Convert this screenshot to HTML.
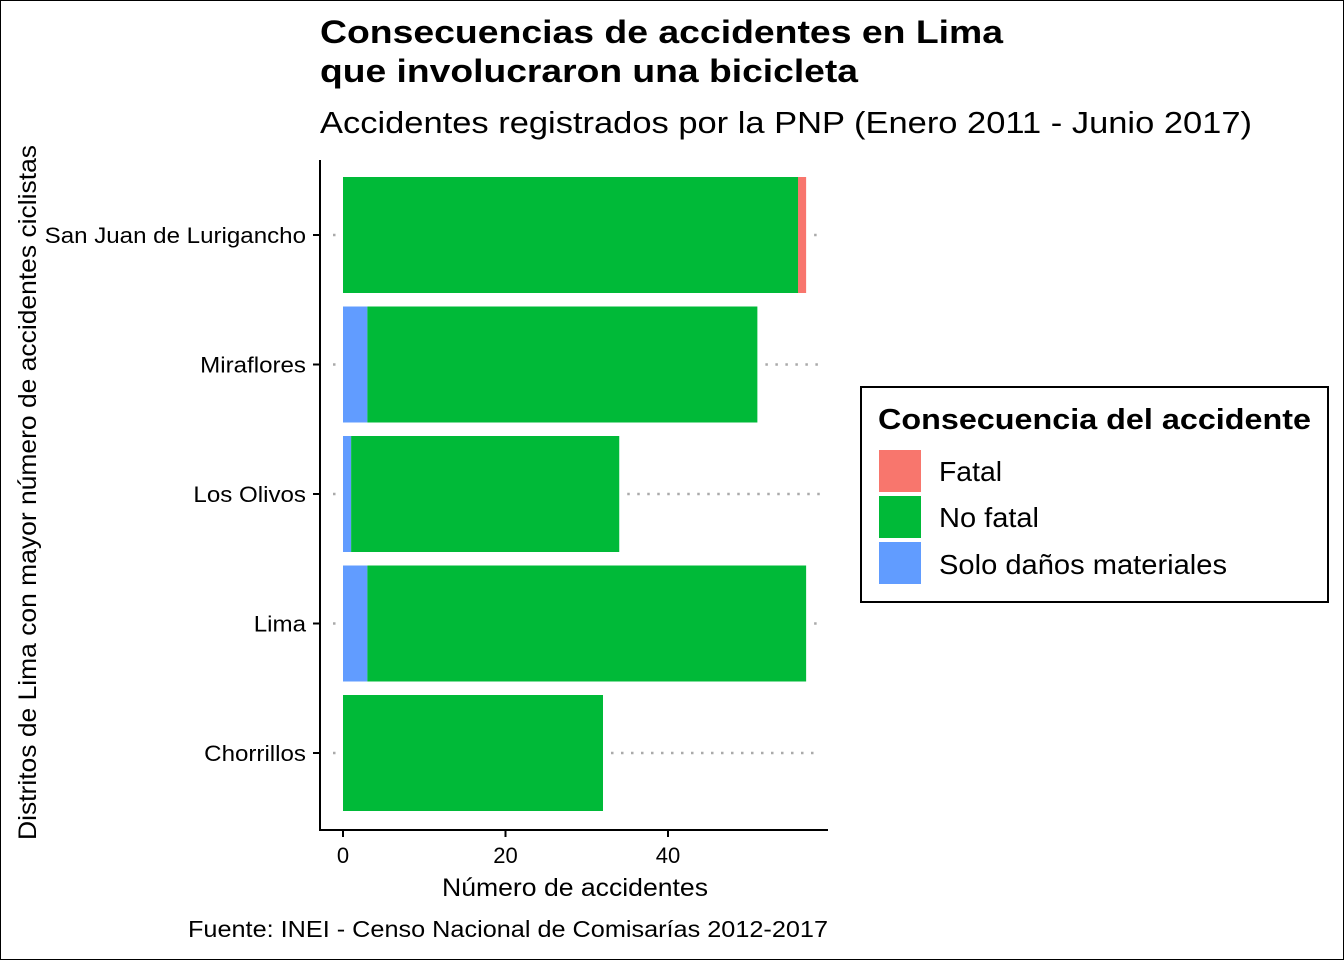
<!DOCTYPE html>
<html><head><meta charset="utf-8"><style>
body{margin:0;background:#fff;}
svg{display:block;font-family:"Liberation Sans",sans-serif;}
</style></head><body>
<svg id="chart" width="1344" height="960" viewBox="0 0 1344 960">
<rect x="0.5" y="0.5" width="1343" height="959" fill="#fff" stroke="#000"/>
<text x="320" y="43" font-size="32" font-weight="bold" textLength="683" lengthAdjust="spacingAndGlyphs">Consecuencias de accidentes en Lima</text>
<text x="320" y="82" font-size="32" font-weight="bold" textLength="538" lengthAdjust="spacingAndGlyphs">que involucraron una bicicleta</text>
<text x="320" y="133" font-size="31" textLength="932" lengthAdjust="spacingAndGlyphs">Accidentes registrados por la PNP (Enero 2011 - Junio 2017)</text>
<g id="grid"></g>
<g id="bars"></g>
<line x1="320" y1="160" x2="320" y2="831" stroke="#000" stroke-width="2"/>
<line x1="319" y1="830" x2="828" y2="830" stroke="#000" stroke-width="2"/>
<g id="axes"></g>
<text x="442" y="896" font-size="25" textLength="266" lengthAdjust="spacingAndGlyphs">Número de accidentes</text>
<text transform="translate(36,840) rotate(-90)" font-size="25" textLength="695" lengthAdjust="spacingAndGlyphs">Distritos de Lima con mayor número de accidentes ciclistas</text>
<text x="188" y="937" font-size="23" textLength="640" lengthAdjust="spacingAndGlyphs">Fuente: INEI - Censo Nacional de Comisarías 2012-2017</text>
<g>
<rect x="861" y="387" width="467" height="215" fill="#fff" stroke="#000" stroke-width="2"/>
<text x="878" y="429" font-size="29" font-weight="bold" textLength="433" lengthAdjust="spacingAndGlyphs">Consecuencia del accidente</text>
<rect x="879" y="450" width="42" height="42" fill="#F8766D"/>
<text x="939" y="481" font-size="28" textLength="63" lengthAdjust="spacingAndGlyphs">Fatal</text>
<rect x="879" y="496" width="42" height="42" fill="#00BA38"/>
<text x="939" y="527" font-size="28" textLength="100" lengthAdjust="spacingAndGlyphs">No fatal</text>
<rect x="879" y="542" width="42" height="42" fill="#619CFF"/>
<text x="939" y="574" font-size="28" textLength="288" lengthAdjust="spacingAndGlyphs">Solo daños materiales</text>
</g>
</svg>
<script>
const districts = ["San Juan de Lurigancho","Miraflores","Los Olivos","Lima","Chorrillos"];
const soloDanos = [0,3,1,3,0];
const noFatal = [56,48,33,54,32];
const fatal = [1,0,0,0,0];
const xTicks = [0,20,40];
const NS="http://www.w3.org/2000/svg";
const x = v => 343 + v*8.125;
const yc = i => 235 + i*129.5;
const barH = 116;
const labelScale = 255/238;
function mk(tag, attrs, parent){const e=document.createElementNS(NS,tag);for(const k in attrs)e.setAttribute(k,attrs[k]);document.getElementById(parent).appendChild(e);return e;}
districts.forEach((d,i)=>{
  const total = soloDanos[i]+noFatal[i]+fatal[i];
  const g = mk("line",{x1:x(total)+8,x2:820,y1:yc(i),y2:yc(i),stroke:"#aaa","stroke-width":2.5,"stroke-dasharray":"2.5 7.5"},"grid");
  
  
  const g2 = mk("line",{x1:333,x2:x(0)-4,y1:yc(i),y2:yc(i),stroke:"#aaa","stroke-width":2.5,"stroke-dasharray":"2.5 7.5"},"grid");
  
  
  let s=0;
  [[soloDanos,"#619CFF","solo-danos"],[noFatal,"#00BA38","no-fatal"],[fatal,"#F8766D","fatal"]].forEach(([arr,c,n])=>{
    if(arr[i]>0){
      const r = mk("rect",{x:x(s),y:yc(i)-barH/2,width:x(s+arr[i])-x(s),height:barH,fill:c},"bars");
      
      
    }
    s+=arr[i];
  });
  const t = mk("line",{x1:313,x2:320,y1:yc(i),y2:yc(i),stroke:"#000","stroke-width":2},"axes");
  
  
  const l = mk("text",{x:306,y:yc(i)+8,"font-size":22.5,"text-anchor":"end"},"axes");
  l.textContent=d;
  
  
  const w = l.getComputedTextLength();
  l.setAttribute('textLength', w*labelScale);
  l.setAttribute('lengthAdjust','spacingAndGlyphs');
});
xTicks.forEach(v=>{
  const t = mk("line",{x1:x(v),x2:x(v),y1:830,y2:837,stroke:"#000","stroke-width":2},"axes");
  
  
  const l = mk("text",{x:x(v),y:863,"font-size":22,"text-anchor":"middle"},"axes");
  l.textContent=v;
  
  
});
</script>
</body></html>
